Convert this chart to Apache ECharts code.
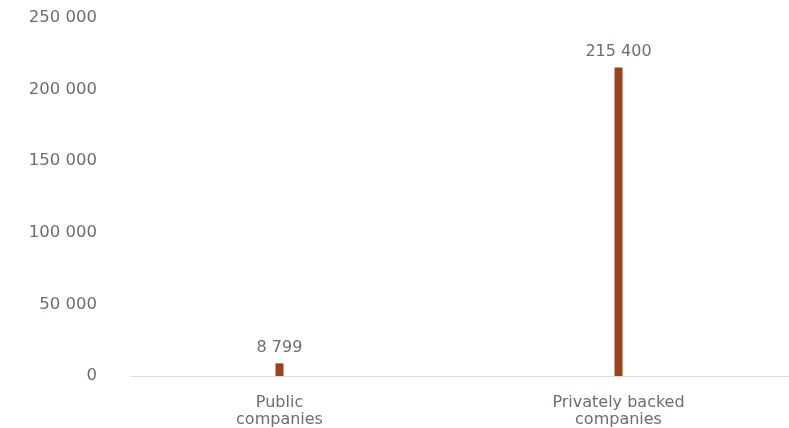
<!DOCTYPE html>
<html>
<head>
<meta charset="utf-8">
<script src="https://cdn.jsdelivr.net/npm/echarts@6/dist/echarts.min.js"></script>
<style>
  html, body { margin: 0; padding: 0; background: #fff; }
  #chart { width: 789px; height: 428px; }
</style>
</head>
<body>
<div id="chart"></div>
<script>
// Company counts by ownership type
const categories = ['Public\ncompanies', 'Privately backed\ncompanies'];
const companyCounts = [8799, 215400];
const yTicks = [0, 50000, 100000, 150000, 200000, 250000];

const textColor = '#736b69';
const barColor = '#9c4119';
const fontFamily = 'DejaVu Sans';

function spaced(v) {
  return String(v).replace(/\B(?=(\d{3})+(?!\d))/g, ' ');
}

const chart = echarts.init(document.getElementById('chart'));
chart.setOption({
  animation: false,
  grid: { left: 110, right: 1, top: 18, bottom: 50 },
  xAxis: {
    type: 'category',
    data: categories,
    axisLine: { show: false },
    axisTick: { show: false },
    axisLabel: {
      color: textColor, fontFamily, fontSize: 16, lineHeight: 17, margin: 18
    }
  },
  yAxis: {
    type: 'value',
    min: yTicks[0],
    max: yTicks[yTicks.length - 1],
    interval: yTicks[1] - yTicks[0],
    splitLine: { show: false },
    axisLine: { show: false },
    axisTick: { show: false },
    axisLabel: {
      color: textColor, fontFamily, fontSize: 16.5, margin: 13,
      verticalAlign: 'middle', padding: [0, 0, 5, 0],
      formatter: v => spaced(v)
    }
  },
  series: [{
    type: 'bar',
    data: companyCounts,
    barWidth: 8,
    itemStyle: { color: barColor },
    label: {
      show: true, position: 'top', distance: 8,
      color: textColor, fontFamily, fontSize: 16,
      formatter: p => spaced(p.value)
    }
  }]
});

// Baseline rule along the zero line
const y0 = chart.convertToPixel({ yAxisIndex: 0 }, 0);
chart.setOption({
  graphic: [{
    type: 'line',
    shape: { x1: 131, y1: y0 + 0.5, x2: 789, y2: y0 + 0.5 },
    style: { stroke: '#dddddd', lineWidth: 1 },
    z: 0
  }]
});
</script>
</body>
</html>
